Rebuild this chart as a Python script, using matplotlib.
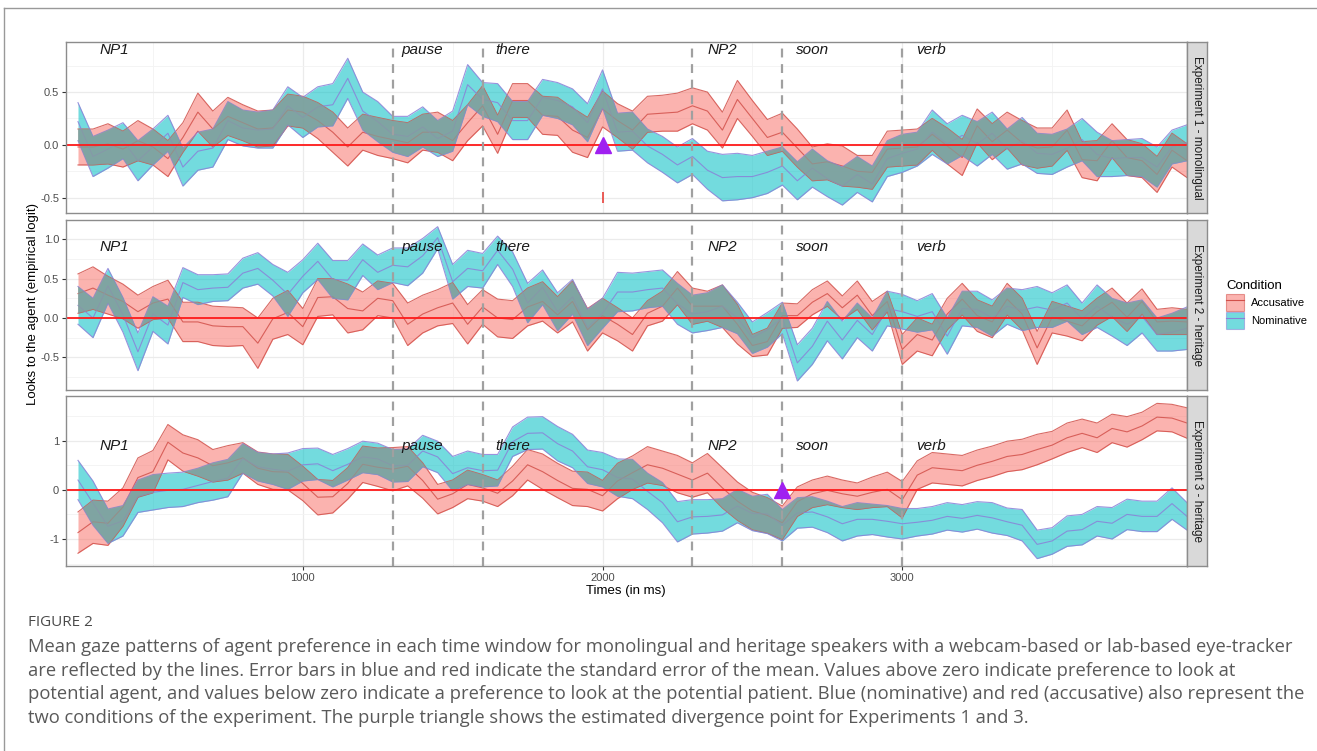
"""Agent-preference gaze curves per experiment, with SE ribbons and divergence points."""

import matplotlib.pyplot as plt
import numpy as np
from matplotlib.lines import Line2D
from matplotlib.patches import Patch

plt.rcParams["font.family"] = ["Liberation Sans", "DejaVu Sans"]
plt.rcParams["axes.unicode_minus"] = False

# time bins (ms)
times = [250, 300, 350, 400, 450, 500, 550, 600, 650, 700, 750, 800, 850, 900, 950,
         1000, 1050, 1100, 1150, 1200, 1250, 1300, 1350, 1400, 1450, 1500, 1550, 1600,
         1650, 1700, 1750, 1800, 1850, 1900, 1950, 2000, 2050, 2100, 2150, 2200, 2250,
         2300, 2350, 2400, 2450, 2500, 2550, 2600, 2650, 2700, 2750, 2800, 2850, 2900,
         2950, 3000, 3050, 3100, 3150, 3200, 3250, 3300, 3350, 3400, 3450, 3500, 3550,
         3600, 3650, 3700, 3750, 3800, 3850, 3900, 3950]

# Experiment 1 - monolingual
acc1_mean = [-0.02, -0.02, 0.01, -0.04, 0.04, -0.02, -0.13, 0.07, 0.31, 0.15,
             0.27, 0.21, 0.15, 0.16, 0.33, 0.31, 0.23, 0.12, -0.02, 0.12,
             0.08, 0.05, 0.02, 0.12, 0.12, 0.04, 0.21, 0.37, 0.10, 0.42,
             0.42, 0.28, 0.27, 0.14, 0.07, 0.34, 0.23,
             0.14, 0.29, 0.30, 0.31, 0.37, 0.32, 0.14, 0.43, 0.25, 0.07,
             0.12, -0.03, -0.18, -0.16, -0.20, -0.25, -0.26, -0.04, -0.03, -0.02,
             0.10, -0.01, -0.12, 0.18, 0.03, 0.14, 0.02, -0.03, -0.02, 0.14,
             -0.14, -0.15, 0.04, -0.12, -0.15, -0.28, -0.05, -0.15]
acc1_se = [0.17, 0.17, 0.19, 0.17, 0.19, 0.17, 0.17, 0.14, 0.18, 0.17,
           0.18, 0.17, 0.17, 0.17, 0.15, 0.15, 0.17, 0.19, 0.18, 0.17,
           0.18, 0.18, 0.19, 0.17, 0.19, 0.19, 0.17, 0.19, 0.18, 0.16,
           0.16, 0.18, 0.18, 0.21, 0.19, 0.17, 0.16,
           0.18, 0.17, 0.17, 0.18, 0.17, 0.18, 0.17, 0.18, 0.17, 0.17,
           0.18, 0.18, 0.16, 0.17, 0.19, 0.15, 0.16, 0.17, 0.17, 0.17,
           0.15, 0.17, 0.17, 0.16, 0.17, 0.17, 0.21, 0.19, 0.18, 0.19,
           0.17, 0.19, 0.16, 0.17, 0.16, 0.17, 0.16, 0.16]
nom1_mean = [0.22, -0.11, -0.04, 0.04, -0.15, -0.02, 0.11, -0.21, -0.06, -0.03,
             0.23, 0.16, 0.14, 0.15, 0.37, 0.26, 0.36, 0.38, 0.63, 0.32,
             0.22, 0.10, 0.08, 0.17, 0.06, 0.13, 0.57, 0.43, 0.40, 0.23,
             0.23, 0.45, 0.42, 0.36, 0.21, 0.53, 0.12,
             0.13, -0.01, -0.09, -0.19, -0.11, -0.24, -0.31, -0.30, -0.30, -0.26,
             -0.20, -0.34, -0.22, -0.32, -0.39, -0.28, -0.37, -0.13, -0.08, -0.04,
             0.12, 0.01, 0.09, 0.01, 0.11, -0.04, 0.04, -0.08, -0.09, -0.03,
             0.05, -0.09, -0.13, -0.12, -0.12, -0.21, -0.02, 0.02]
nom1_se = [0.18, 0.19, 0.18, 0.17, 0.19, 0.17, 0.17, 0.18, 0.18, 0.18,
           0.18, 0.17, 0.17, 0.18, 0.18, 0.19, 0.19, 0.20, 0.19, 0.18,
           0.19, 0.17, 0.19, 0.19, 0.17, 0.19, 0.19, 0.16, 0.18, 0.18,
           0.18, 0.17, 0.17, 0.17, 0.18, 0.18, 0.18,
           0.18, 0.16, 0.17, 0.17, 0.17, 0.18, 0.22, 0.22, 0.20, 0.20,
           0.18, 0.18, 0.18, 0.17, 0.18, 0.17, 0.17, 0.17, 0.18, 0.16,
           0.21, 0.19, 0.19, 0.21, 0.20, 0.19, 0.22, 0.19, 0.19, 0.18,
           0.20, 0.21, 0.17, 0.17, 0.18, 0.19, 0.16, 0.17]

# Experiment 2 - heritage
acc2_mean = [0.31, 0.38, 0.29, 0.21, 0.08, 0.19, 0.24, -0.05, -0.05, -0.10,
             -0.11, -0.11, -0.32, -0.01, 0.07, -0.11, 0.26, 0.27, 0.12, 0.09,
             0.25, 0.22, -0.08, 0.05, 0.13, 0.19, -0.08, 0.14, 0.00, -0.02,
             0.14, 0.21, 0.04, 0.21, -0.15, 0.03, -0.08,
             -0.21, 0.06, 0.15, 0.38, 0.15, 0.15, 0.15, -0.08, -0.35, -0.30,
             0.03, 0.03, 0.20, 0.31, 0.13, 0.29, 0.03, 0.21, -0.40, -0.21,
             -0.28, 0.05, 0.24, 0.03, -0.05, 0.24, 0.05, -0.38, 0.01, -0.04,
             -0.10, 0.08, 0.20, 0.01, 0.21, -0.05, -0.04, -0.05]
acc2_se = [0.25, 0.27, 0.24, 0.22, 0.21, 0.21, 0.24, 0.25, 0.25, 0.25,
           0.25, 0.24, 0.32, 0.26, 0.28, 0.23, 0.24, 0.23, 0.31, 0.24,
           0.22, 0.22, 0.27, 0.24, 0.23, 0.26, 0.25, 0.22, 0.24, 0.24,
           0.24, 0.25, 0.23, 0.26, 0.27, 0.22, 0.21,
           0.21, 0.16, 0.19, 0.21, 0.23, 0.19, 0.27, 0.25, 0.14, 0.17,
           0.16, 0.15, 0.16, 0.16, 0.15, 0.18, 0.18, 0.13, 0.19, 0.21,
           0.20, 0.20, 0.20, 0.20, 0.20, 0.20, 0.20, 0.21, 0.20, 0.19,
           0.19, 0.17, 0.18, 0.18, 0.16, 0.16, 0.17, 0.16]
nom2_mean = [0.16, 0.00, 0.41, 0.04, -0.43, 0.05, -0.09, 0.45, 0.36, 0.38,
             0.39, 0.57, 0.63, 0.48, 0.30, 0.53, 0.72, 0.49, 0.48, 0.74,
             0.58, 0.67, 0.65, 0.79, 1.02, 0.46, 0.63, 0.60, 0.86, 0.62,
             0.19, 0.39, 0.08, 0.27, -0.12, 0.06, 0.33,
             0.33, 0.36, 0.38, 0.18, 0.05, 0.08, 0.15, 0.00, -0.25, -0.15,
             0.00, -0.57, -0.36, -0.04, -0.28, -0.03, -0.21, 0.12, 0.08, 0.02,
             0.08, -0.23, 0.12, 0.11, 0.00, 0.15, 0.10, 0.14, 0.10, 0.19,
             -0.01, 0.15, 0.01, -0.08, 0.02, -0.21, -0.18, -0.13]
nom2_se = [0.24, 0.25, 0.22, 0.22, 0.24, 0.22, 0.24, 0.19, 0.19, 0.17,
           0.17, 0.19, 0.20, 0.20, 0.28, 0.21, 0.23, 0.24, 0.25, 0.20,
           0.22, 0.22, 0.24, 0.22, 0.14, 0.22, 0.23, 0.22, 0.18, 0.22,
           0.25, 0.22, 0.24, 0.22, 0.23, 0.19, 0.25,
           0.24, 0.23, 0.23, 0.26, 0.24, 0.24, 0.27, 0.20, 0.20, 0.22,
           0.20, 0.23, 0.23, 0.25, 0.24, 0.22, 0.21, 0.22, 0.22, 0.20,
           0.23, 0.23, 0.22, 0.23, 0.23, 0.23, 0.26, 0.26, 0.22, 0.23,
           0.20, 0.27, 0.24, 0.27, 0.21, 0.21, 0.24, 0.27]

# Experiment 3 - heritage
acc3_mean = [-0.87, -0.65, -0.68, -0.35, 0.25, 0.37, 0.97, 0.75, 0.65, 0.49,
             0.55, 0.65, 0.44, 0.37, 0.36, 0.13, -0.15, -0.14, 0.13, 0.52,
             0.46, 0.42, 0.48, 0.19, -0.19, -0.08, 0.11, 0.04, -0.07, 0.18,
             0.51, 0.37, 0.19, 0.03, 0.01, -0.12, 0.18,
             0.35, 0.51, 0.44, 0.32, 0.20, 0.34, 0.04, -0.23, -0.43, -0.52,
             -0.67, -0.24, -0.08, -0.01, -0.08, -0.13, -0.05, 0.01, -0.20, 0.30,
             0.45, 0.42, 0.39, 0.50, 0.58, 0.68, 0.72, 0.82, 0.91, 1.06,
             1.15, 1.06, 1.25, 1.18, 1.30, 1.48, 1.46, 1.36]
acc3_se = [0.42, 0.44, 0.45, 0.39, 0.40, 0.43, 0.36, 0.37, 0.37, 0.33,
           0.35, 0.31, 0.33, 0.36, 0.36, 0.35, 0.36, 0.33, 0.32, 0.37,
           0.39, 0.44, 0.40, 0.36, 0.30, 0.28, 0.29, 0.27, 0.27, 0.30,
           0.31, 0.36, 0.35, 0.35, 0.35, 0.31, 0.36,
           0.34, 0.37, 0.35, 0.38, 0.35, 0.40, 0.41, 0.39, 0.38, 0.36,
           0.34, 0.30, 0.28, 0.29, 0.28, 0.27, 0.31, 0.35, 0.37, 0.29,
           0.31, 0.31, 0.31, 0.31, 0.31, 0.31, 0.31, 0.31, 0.28, 0.30,
           0.29, 0.30, 0.29, 0.31, 0.28, 0.28, 0.28, 0.31]
nom3_mean = [0.20, -0.27, -0.74, -0.63, -0.13, -0.05, -0.01, 0.01, 0.09, 0.17,
             0.24, 0.64, 0.47, 0.42, 0.38, 0.51, 0.53, 0.39, 0.52, 0.67,
             0.63, 0.49, 0.50, 0.79, 0.67, 0.33, 0.45, 0.39, 0.40, 0.98,
             1.15, 1.16, 0.94, 0.79, 0.47, 0.41, 0.25,
             0.22, -0.03, -0.26, -0.65, -0.55, -0.54, -0.51, -0.33, -0.48, -0.49,
             -0.72, -0.47, -0.45, -0.55, -0.69, -0.60, -0.60, -0.64, -0.69, -0.66,
             -0.62, -0.54, -0.58, -0.52, -0.57, -0.65, -0.72, -1.11, -1.04, -0.84,
             -0.81, -0.64, -0.68, -0.50, -0.54, -0.54, -0.28, -0.54]
nom3_se = [0.40, 0.45, 0.35, 0.31, 0.33, 0.36, 0.35, 0.35, 0.35, 0.38,
           0.38, 0.30, 0.29, 0.31, 0.37, 0.33, 0.32, 0.33, 0.32, 0.32,
           0.32, 0.33, 0.33, 0.32, 0.32, 0.35, 0.34, 0.33, 0.32, 0.30,
           0.33, 0.33, 0.35, 0.34, 0.34, 0.35, 0.38,
           0.40, 0.37, 0.41, 0.41, 0.35, 0.34, 0.33, 0.34, 0.35, 0.40,
           0.32, 0.31, 0.31, 0.32, 0.35, 0.34, 0.31, 0.32, 0.31, 0.28,
           0.28, 0.28, 0.28, 0.28, 0.31, 0.28, 0.32, 0.29, 0.27, 0.31,
           0.31, 0.30, 0.32, 0.31, 0.31, 0.31, 0.32, 0.28]

panel_titles = ["Experiment 1 - monolingual", "Experiment 2 - heritage", "Experiment 3 - heritage"]
panel_ylims = [(-0.645, 0.974), (-0.915, 1.245), (-1.55, 1.91)]
panel_yticks = [[-0.5, 0.0, 0.5], [-0.5, 0.0, 0.5, 1.0], [-1, 0, 1]]
panel_yminor = [[-0.25, 0.25, 0.75], [-0.75, -0.25, 0.25, 0.75], [-1.5, -0.5, 0.5, 1.5]]
panel_yfmt = ["{:.1f}", "{:.1f}", "{:.0f}"]

# word onsets (dashed lines) and word labels
onsets = [1300, 1600, 2300, 2600, 3000]
words = ["NP1", "pause", "there", "NP2", "soon", "verb"]
word_x = [322, 1330, 1642, 2350, 2645, 3048]
word_y = 0.9

# divergence point per panel (None = no divergence), with its small CI bar
div_time = [2000, None, 2600]
div_bar = [(-0.55, -0.45), None, None]

ACC_FILL, ACC_LINE = "#F8766D", "#D2504A"
NOM_FILL, NOM_LINE = "#00BFC4", "#8A80D8"
OVERLAP = "#859E9A"


def draw_band(ax, x, mean, se, fill, line):
    mean = np.asarray(mean)
    se = np.asarray(se)
    ax.fill_between(x, mean - se, mean + se, color=fill, alpha=0.55, lw=0, zorder=2)
    for y in (mean - se, mean, mean + se):
        ax.plot(x, y, color=line, lw=0.8, alpha=0.85, zorder=3)


def draw_overlap(ax, x, m1, s1, m2, s2):
    """Shade where the two SE ribbons overlap (ggplot renders this darker)."""
    m1, s1, m2, s2 = map(np.asarray, (m1, s1, m2, s2))
    fine = np.linspace(x[0], x[-1], 3000)
    lo = np.maximum(np.interp(fine, x, m1 - s1), np.interp(fine, x, m2 - s2))
    hi = np.minimum(np.interp(fine, x, m1 + s1), np.interp(fine, x, m2 + s2))
    ax.fill_between(fine, lo, hi, where=hi > lo, color=OVERLAP, alpha=0.75,
                    lw=0, interpolate=True, zorder=4)


fig = plt.figure(figsize=(13.17, 7.51), dpi=100)
W, H = 1317, 751

panel_px = [(42, 213), (220, 390), (396, 566)]
series = [
    (acc1_mean, acc1_se, nom1_mean, nom1_se),
    (acc2_mean, acc2_se, nom2_mean, nom2_se),
    (acc3_mean, acc3_se, nom3_mean, nom3_se),
]

for i, (top, bot) in enumerate(panel_px):
    ax = fig.add_axes([66 / W, 1 - bot / H, (1187 - 66) / W, (bot - top) / H])
    am, ase, nm, nse = series[i]

    draw_band(ax, times, am, ase, ACC_FILL, ACC_LINE)
    draw_band(ax, times, nm, nse, NOM_FILL, NOM_LINE)
    draw_overlap(ax, times, am, ase, nm, nse)

    ax.axhline(0, color="#FF1A1A", lw=1.3, zorder=6)
    for t in onsets:
        ax.axvline(t, color="#A0A0A0", lw=1.6, ls=(0, (4, 3)), zorder=7)
    for w, wx in zip(words, word_x):
        ax.text(wx, word_y, w, fontsize=11, style="italic", color="#1A1A1A",
                ha="left", va="center", zorder=8)

    if div_time[i] is not None:
        ax.plot(div_time[i], 0, marker="^", ms=11, color="#A020F0", zorder=9, clip_on=False)
    if div_bar[i] is not None:
        ax.vlines(div_time[i], div_bar[i][0], div_bar[i][1], color="#E8403A", lw=1.2, zorder=9)

    ax.set_xlim(210, 3950)
    ax.set_ylim(*panel_ylims[i])
    ax.set_xticks([1000, 2000, 3000])
    ax.set_xticks([500, 1500, 2500, 3500], minor=True)
    ax.set_yticks(panel_yticks[i])
    ax.set_yticks(panel_yminor[i], minor=True)
    ax.set_yticklabels([panel_yfmt[i].format(v) for v in panel_yticks[i]])
    ax.grid(which="major", color="#EBEBEB", lw=0.9, zorder=0)
    ax.grid(which="minor", color="#F3F3F3", lw=0.6, zorder=0)
    ax.set_axisbelow(True)
    ax.tick_params(which="minor", length=0)
    ax.tick_params(which="major", length=3, width=0.8, color="#333333",
                   labelsize=8, labelcolor="#4D4D4D", pad=2)
    if i < 2:
        ax.tick_params(axis="x", labelbottom=False, length=0)
    for sp in ax.spines.values():
        sp.set_color("#8C8C8C")
        sp.set_linewidth(1.0)
        sp.set_zorder(10)

    # facet strip on the right
    sax = fig.add_axes([1187 / W, 1 - bot / H, 20 / W, (bot - top) / H])
    sax.set_facecolor("#D9D9D9")
    sax.set_xticks([])
    sax.set_yticks([])
    for sp in sax.spines.values():
        sp.set_color("#8C8C8C")
        sp.set_linewidth(1.0)
    sax.text(0.5, 0.5, panel_titles[i], rotation=270, ha="center", va="center",
             fontsize=8.5, color="#1A1A1A", transform=sax.transAxes)

fig.text(626 / W, 1 - 591 / H, "Times (in ms)", ha="center", va="center", fontsize=9.5)
fig.text(33 / W, 1 - 304 / H, "Looks to the agent (empirical logit)", rotation=90,
         ha="center", va="center", fontsize=9.5)

handles = [
    (Patch(facecolor=ACC_FILL, alpha=0.55, edgecolor=ACC_LINE, lw=0.8),
     Line2D([], [], color=ACC_LINE, lw=0.8)),
    (Patch(facecolor=NOM_FILL, alpha=0.55, edgecolor=NOM_LINE, lw=0.8),
     Line2D([], [], color=NOM_LINE, lw=0.8)),
]
fig.legend(handles=handles, labels=["Accusative", "Nominative"], title="Condition",
           loc="upper left", bbox_to_anchor=(1222 / W, 1 - 276 / H), frameon=False,
           fontsize=8, title_fontsize=9.5, handlelength=1.55, handleheight=1.9,
           handletextpad=0.7, labelspacing=0.15, alignment="left", borderaxespad=0)

# figure frame (journal page box)
fig.add_artist(Line2D([4 / W, 1], [1 - 8 / H, 1 - 8 / H], color="#999999", lw=1.0))
fig.add_artist(Line2D([4 / W, 4 / W], [0, 1 - 8 / H], color="#999999", lw=1.0))

caption = [
    "Mean gaze patterns of agent preference in each time window for monolingual and heritage speakers with a webcam-based or lab-based eye-tracker",
    "are reflected by the lines. Error bars in blue and red indicate the standard error of the mean. Values above zero indicate preference to look at",
    "potential agent, and values below zero indicate a preference to look at the potential patient. Blue (nominative) and red (accusative) also represent the",
    "two conditions of the experiment. The purple triangle shows the estimated divergence point for Experiments 1 and 3.",
]
fig.text(28 / W, 1 - 623 / H, "FIGURE 2", fontsize=11, color="#4A4A4A",
         family=["Open Sans", "DejaVu Sans"], va="center")
for k, line in enumerate(caption):
    fig.text(28 / W, 1 - (647 + 23.7 * k) / H, line, fontsize=13.2, color="#595959",
             family=["Open Sans", "DejaVu Sans"], va="center")

fig.savefig("out.png", dpi=100)
plt.close(fig)
